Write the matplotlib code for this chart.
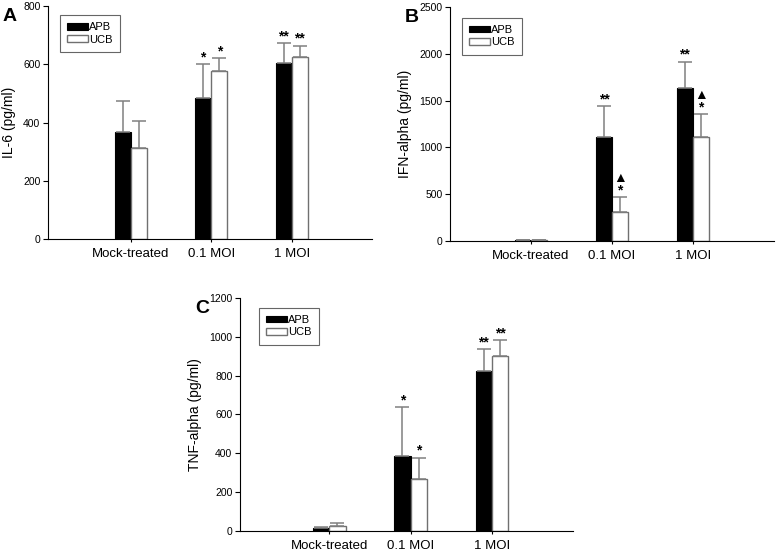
import matplotlib
matplotlib.use('Agg')
import matplotlib.pyplot as plt

plt.rcParams['font.family'] = ['Liberation Sans', 'DejaVu Sans']

groups = ['Mock-treated', '0.1 MOI', '1 MOI']

# panel A - IL-6
il6_apb = [368, 483, 603]
il6_apb_err = [106, 117, 69]
il6_ucb = [311, 578, 626]
il6_ucb_err = [94, 42, 38]
il6_apb_sig = ['', '*', '**']
il6_ucb_sig = ['', '*', '**']

# panel B - IFN-alpha
ifn_apb = [10, 1109, 1630]
ifn_apb_err = [5, 332, 285]
ifn_ucb = [10, 307, 1113]
ifn_ucb_err = [5, 160, 242]
ifn_apb_sig = ['', '**', '**']
ifn_ucb_sig = ['', '\u25B2\n*', '\u25B2\n*']

# panel C - TNF-alpha
tnf_apb = [15, 388, 822]
tnf_apb_err = [7, 248, 115]
tnf_ucb = [24, 266, 903]
tnf_ucb_err = [16, 112, 80]
tnf_apb_sig = ['', '*', '**']
tnf_ucb_sig = ['', '*', '**']

fig = plt.figure(figsize=(7.77, 5.51), dpi=100)

ERRC = '#808080'
w = 0.2


def panel(rect, letter, apb, apb_err, ucb, ucb_err, apb_sig, ucb_sig,
          ymax, ystep, ylabel, xlim, leg_pos):
    ax = fig.add_axes(rect)
    x = [1, 2, 3]
    xa = [i - w / 2 for i in x]
    xu = [i + w / 2 for i in x]
    ax.bar(xa, apb, w, color='black', edgecolor='black', linewidth=0.8,
           label='APB', zorder=2)
    ax.bar(xu, ucb, w, color='white', edgecolor='#707070', linewidth=1.0,
           label='UCB', zorder=2)
    ax.errorbar(xa, apb, yerr=[[0] * 3, apb_err], fmt='none', ecolor=ERRC,
                elinewidth=1.1, capsize=5, capthick=1.1, zorder=3)
    ax.errorbar(xu, ucb, yerr=[[0] * 3, ucb_err], fmt='none', ecolor=ERRC,
                elinewidth=1.1, capsize=5, capthick=1.1, zorder=3)
    for xs, vals, errs, sigs in [(xa, apb, apb_err, apb_sig), (xu, ucb, ucb_err, ucb_sig)]:
        for xi, v, e, s in zip(xs, vals, errs, sigs):
            if s:
                ax.annotate(s, (xi, v + e), xytext=(0, 0), textcoords='offset points',
                            ha='center', va='bottom', fontsize=10, fontweight='bold',
                            linespacing=0.8)
    ax.set_xlim(*xlim)
    ax.set_ylim(0, ymax)
    ax.set_yticks(range(0, ymax + 1, ystep))
    ax.set_xticks(x)
    ax.set_xticklabels(groups)
    ax.spines['top'].set_visible(False)
    ax.spines['right'].set_visible(False)
    for sp in ['left', 'bottom']:
        ax.spines[sp].set_linewidth(0.8)
    ax.tick_params(axis='y', length=3.5, width=0.8, labelsize=7.5, pad=2)
    ax.tick_params(axis='x', length=2.5, width=0.8, labelsize=9.5, pad=4)
    ax.set_ylabel(ylabel, fontsize=10, labelpad=5)
    leg = ax.legend(loc='upper left', bbox_to_anchor=leg_pos, fontsize=8,
                    frameon=True, fancybox=False, handlelength=1.9,
                    handleheight=0.5, handletextpad=0.1, borderpad=0.65,
                    labelspacing=0.2, borderaxespad=0)
    leg.get_frame().set_edgecolor('#404040')
    leg.get_frame().set_linewidth(0.8)
    fig.text(rect[0] - 0.058, rect[1] + rect[3] - 0.003, letter, fontsize=14,
             fontweight='bold', ha='left', va='top')
    return ax


panel([0.0618, 0.5662, 0.4170, 0.4228], 'A', il6_apb, il6_apb_err, il6_ucb, il6_ucb_err,
      il6_apb_sig, il6_ucb_sig, 800, 200, 'IL-6 (pg/ml)', (-0.03, 4.0), (0.037, 0.961))
panel([0.5792, 0.5626, 0.4169, 0.4247], 'B', ifn_apb, ifn_apb_err, ifn_ucb, ifn_ucb_err,
      ifn_apb_sig, ifn_ucb_sig, 2500, 500, 'IFN-alpha (pg/ml)', (0.0, 4.0), (0.037, 0.953))
panel([0.3089, 0.0363, 0.4286, 0.4229], 'C', tnf_apb, tnf_apb_err, tnf_ucb, tnf_ucb_err,
      tnf_apb_sig, tnf_ucb_sig, 1200, 200, 'TNF-alpha (pg/ml)', (-0.1, 4.0), (0.057, 0.957))

fig.savefig('out.png', dpi=100)
